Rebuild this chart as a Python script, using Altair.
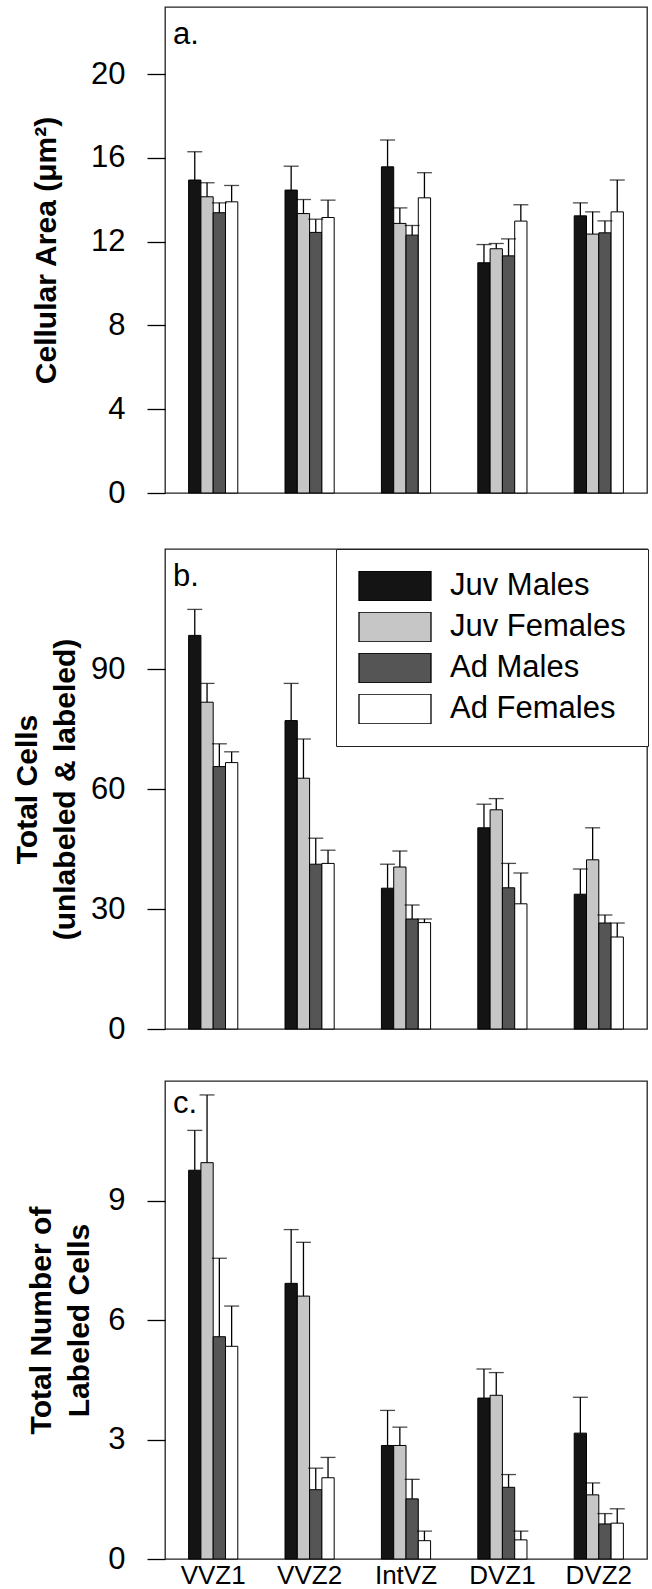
import altair as alt
import pandas as pd

regions = ["VVZ1", "VVZ2", "IntVZ", "DVZ1", "DVZ2"]
groups = ["Juv Males", "Juv Females", "Ad Males", "Ad Females"]
colors = ["#141414", "#c6c6c6", "#555555", "#ffffff"]

# panel a: cellular area (mean, upper error end) per group, per region
area_mean = {
    "Juv Males":   [14.94, 14.46, 15.57, 10.99, 13.23],
    "Juv Females": [14.14, 13.34, 12.87, 11.66, 12.36],
    "Ad Males":    [13.38, 12.44, 12.31, 11.32, 12.42],
    "Ad Females":  [13.90, 13.15, 14.09, 12.98, 13.42],
}
area_upper = {
    "Juv Males":   [16.29, 15.60, 16.85, 11.86, 13.85],
    "Juv Females": [14.81, 14.01, 13.61, 11.91, 13.42],
    "Ad Males":    [13.85, 13.07, 12.77, 12.13, 12.99],
    "Ad Females":  [14.68, 13.98, 15.29, 13.76, 14.94],
}
# panel b: total cells
total_mean = {
    "Juv Males":   [98.4, 77.1, 35.2, 50.3, 33.7],
    "Juv Females": [81.7, 62.7, 40.5, 54.8, 42.3],
    "Ad Males":    [65.6, 41.2, 27.5, 35.3, 26.5],
    "Ad Females":  [66.6, 41.4, 26.6, 31.3, 23.0],
}
total_upper = {
    "Juv Males":   [104.9, 86.4, 41.2, 56.2, 40.0],
    "Juv Females": [86.4, 72.5, 44.5, 57.6, 50.3],
    "Ad Males":    [71.3, 47.7, 31.0, 41.4, 28.5],
    "Ad Females":  [69.3, 44.7, 27.5, 39.0, 26.5],
}
# panel c: labeled cells
labeled_mean = {
    "Juv Males":   [9.76, 6.92, 2.85, 4.04, 3.16],
    "Juv Females": [9.95, 6.60, 2.85, 4.11, 1.61],
    "Ad Males":    [5.58, 1.74, 1.51, 1.80, 0.88],
    "Ad Females":  [5.34, 2.04, 0.46, 0.48, 0.90],
}
labeled_upper = {
    "Juv Males":   [10.76, 8.27, 3.73, 4.77, 4.06],
    "Juv Females": [11.65, 7.95, 3.31, 4.68, 1.91],
    "Ad Males":    [7.55, 2.28, 2.00, 2.12, 1.14],
    "Ad Females":  [6.35, 2.55, 0.70, 0.70, 1.26],
}


def frame(mean, upper):
    rows = []
    for g in groups:
        for i, r in enumerate(regions):
            rows.append({"region": r, "group": g, "value": mean[g][i], "upper": upper[g][i]})
    return pd.DataFrame(rows)


FONT = "Liberation Sans"
W = 482


def panel(df, letter, title, ymax, ticks, height, show_x, show_legend, title_pad, letter_y):
    base = alt.Chart(df)
    xenc = alt.X(
        "region:N", sort=regions,
        scale=alt.Scale(paddingInner=0.49, paddingOuter=0.245),
        axis=alt.Axis(labels=True, ticks=False, domain=False, title=None,
                      labelFontSize=26, labelFont=FONT, labelColor="black",
                      labelPadding=3, labelAngle=0) if show_x else None,
    )
    yscale = alt.Scale(domain=[0, ymax], nice=False, zero=True)
    yaxis = alt.Axis(values=ticks, grid=False, domain=False, tickSize=18, tickColor="black",
                     tickWidth=1.3, labelFontSize=31, labelFont=FONT, labelColor="black",
                     labelPadding=22, title=title, titleFont=FONT, titleFontSize=30,
                     titleFontWeight="bold", titleColor="black", titlePadding=title_pad,
                     titleLineHeight=38)
    if show_legend:
        legend = alt.Legend(orient="none", legendX=171, legendY=0, title=None,
                            symbolType="M-1,-0.417H1V0.417H-1Z", symbolSize=5184,
                            symbolStrokeColor="black", symbolStrokeWidth=1.3,
                            symbolOpacity=1, clipHeight=30, rowPadding=10,
                            labelFontSize=31, labelFont=FONT, labelColor="black",
                            labelOffset=18, labelLimit=400, padding=22,
                            strokeColor="#222222",
                            fillColor="white", cornerRadius=0)
    else:
        legend = None
    color = alt.Color("group:N", sort=groups,
                      scale=alt.Scale(domain=groups, range=colors), legend=legend)
    xoff = alt.XOffset("group:N", sort=groups, scale=alt.Scale(domain=groups, paddingInner=0, paddingOuter=0))

    bars = base.mark_bar(stroke="black", strokeWidth=1, opacity=1).encode(
        x=xenc, xOffset=xoff,
        y=alt.Y("value:Q", scale=yscale, axis=yaxis),
        color=color,
    )
    err = base.mark_rule(color="black", strokeWidth=1.3).encode(
        x=alt.X("region:N", sort=regions), xOffset=xoff,
        y="value:Q", y2="upper:Q",
    )
    caps = base.mark_tick(color="black", thickness=1.3, size=15, orient="horizontal").encode(
        x=alt.X("region:N", sort=regions), xOffset=xoff,
        y="upper:Q",
    )
    lab = alt.Chart(pd.DataFrame({"t": [letter]})).mark_text(
        align="left", baseline="alphabetic", fontSize=31, font=FONT, color="black"
    ).encode(text="t:N", x=alt.value(8), y=alt.value(letter_y))
    return alt.layer(bars, err, caps, lab).properties(width=W, height=height)


pa = panel(frame(area_mean, area_upper), "a.", "Cellular Area (μm²)", 23.2,
           [0, 4, 8, 12, 16, 20], 486, False, False, 29, 37)
pb = panel(frame(total_mean, total_upper), "b.", ["Total Cells", "(unlabeled & labeled)"], 120,
           [0, 30, 60, 90], 480, False, True, 10, 37)
pc = panel(frame(labeled_mean, labeled_upper), "c.", ["Total Number of", "Labeled Cells"], 12,
           [0, 3, 6, 9], 478, True, False, 13, 32)

top = alt.vconcat(pa, pb, spacing=38).resolve_scale(color="independent")
chart = alt.vconcat(top, pc, spacing=35).resolve_scale(color="independent").properties(
    padding={"left": 11, "top": 6, "right": 0, "bottom": 0}, background="white"
).configure_view(stroke="#222222", strokeWidth=1.3)

chart.save("out.html", embed_options={"renderer": "svg", "actions": False})
